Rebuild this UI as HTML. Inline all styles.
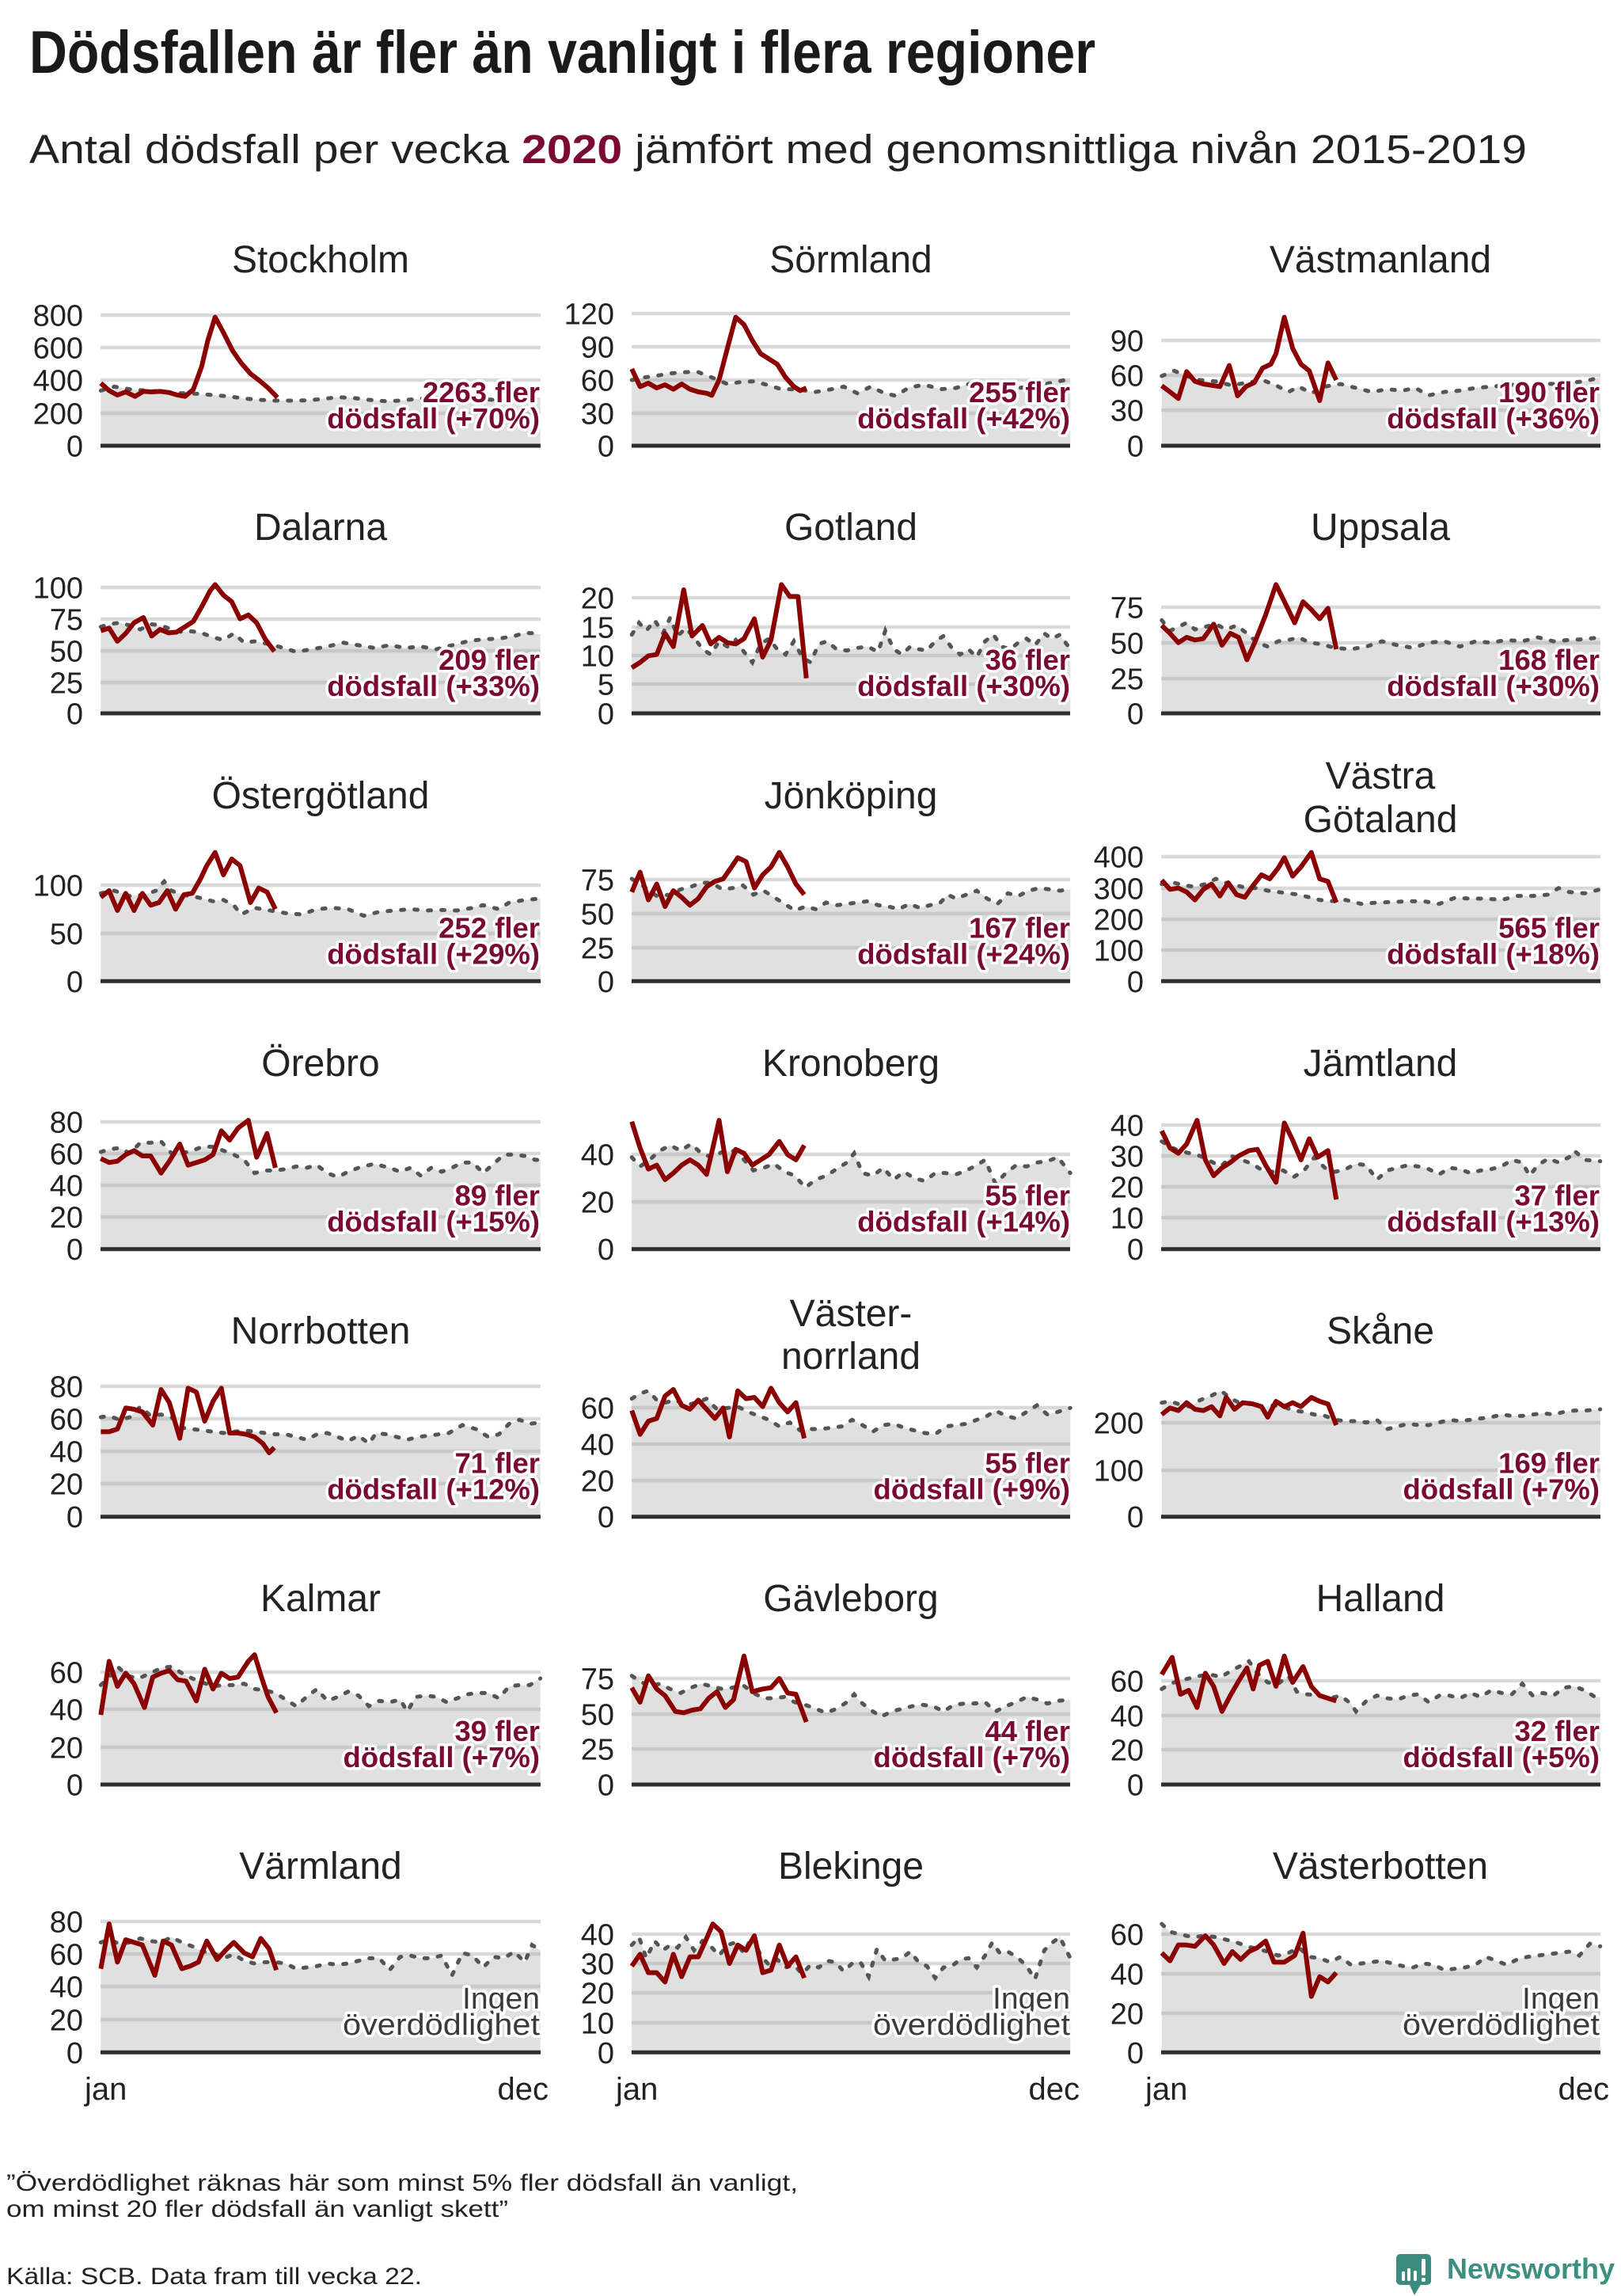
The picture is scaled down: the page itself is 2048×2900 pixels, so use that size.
<!DOCTYPE html>
<html><head><meta charset="utf-8"><style>
html,body{margin:0;padding:0;background:#fff}
svg{display:block}
text{font-family:"Liberation Sans",sans-serif}
.tk{font-size:38px;fill:#222;text-anchor:end}
.pt{font-size:48px;fill:#222;text-anchor:middle}
.an{font-size:36.5px;font-weight:bold;fill:#7a0a33;text-anchor:end;stroke:#fff;stroke-width:7px;paint-order:stroke;stroke-linejoin:round}
.ig{font-size:38px;fill:#3a3a3a;text-anchor:end;stroke:#fff;stroke-width:7px;paint-order:stroke;stroke-linejoin:round}
.gr line{stroke:#d9d9d9;stroke-width:4.5}
.bl{stroke:#2e2e2e;stroke-width:5}
.area{fill:#aaa;fill-opacity:.37;stroke:none}
.avg{fill:none;stroke:#555;stroke-width:5;stroke-dasharray:4 13;stroke-linecap:round;vector-effect:non-scaling-stroke}
.red{fill:none;stroke:#8b0000;stroke-width:6;stroke-linejoin:round;vector-effect:non-scaling-stroke}
.ax{font-size:40px;fill:#222}
.ft{font-size:30px;fill:#222}
</style></head><body>
<svg width="2048" height="2900" viewBox="0 0 2048 2900" xmlns="http://www.w3.org/2000/svg">
<rect width="2048" height="2900" fill="#fff"/>
<text x="37" y="92" font-size="76" font-weight="bold" fill="#1a1a1a" textLength="1347" lengthAdjust="spacingAndGlyphs">Dödsfallen är fler än vanligt i flera regioner</text>
<text x="37" y="206" font-size="51" fill="#222" textLength="1892" lengthAdjust="spacingAndGlyphs">Antal dödsfall per vecka <tspan font-weight="bold" fill="#7a0a33">2020</tspan> jämfört med genomsnittliga nivån 2015-2019</text>

<!-- gridlines -->
<g class="gr">
<line x1="127" y1="398" x2="683" y2="398"/><line x1="127" y1="439" x2="683" y2="439"/><line x1="127" y1="480" x2="683" y2="480"/><line x1="127" y1="522" x2="683" y2="522"/>
<line x1="798" y1="396" x2="1352" y2="396"/><line x1="798" y1="438" x2="1352" y2="438"/><line x1="798" y1="480" x2="1352" y2="480"/><line x1="798" y1="522" x2="1352" y2="522"/>
<line x1="1467" y1="430" x2="2022" y2="430"/><line x1="1467" y1="474" x2="2022" y2="474"/><line x1="1467" y1="518" x2="2022" y2="518"/>

<line x1="127" y1="742" x2="683" y2="742"/><line x1="127" y1="782" x2="683" y2="782"/><line x1="127" y1="822" x2="683" y2="822"/><line x1="127" y1="862" x2="683" y2="862"/>
<line x1="798" y1="755" x2="1352" y2="755"/><line x1="798" y1="792" x2="1352" y2="792"/><line x1="798" y1="828" x2="1352" y2="828"/><line x1="798" y1="864" x2="1352" y2="864"/>
<line x1="1467" y1="767" x2="2022" y2="767"/><line x1="1467" y1="812" x2="2022" y2="812"/><line x1="1467" y1="857" x2="2022" y2="857"/>

<line x1="127" y1="1118" x2="683" y2="1118"/><line x1="127" y1="1179" x2="683" y2="1179"/>
<line x1="798" y1="1111" x2="1352" y2="1111"/><line x1="798" y1="1154" x2="1352" y2="1154"/><line x1="798" y1="1197" x2="1352" y2="1197"/>
<line x1="1467" y1="1082" x2="2022" y2="1082"/><line x1="1467" y1="1122" x2="2022" y2="1122"/><line x1="1467" y1="1161" x2="2022" y2="1161"/><line x1="1467" y1="1200" x2="2022" y2="1200"/>

<line x1="127" y1="1417" x2="683" y2="1417"/><line x1="127" y1="1457" x2="683" y2="1457"/><line x1="127" y1="1497" x2="683" y2="1497"/><line x1="127" y1="1537" x2="683" y2="1537"/>
<line x1="798" y1="1458" x2="1352" y2="1458"/><line x1="798" y1="1518" x2="1352" y2="1518"/>
<line x1="1467" y1="1421" x2="2022" y2="1421"/><line x1="1467" y1="1460" x2="2022" y2="1460"/><line x1="1467" y1="1499" x2="2022" y2="1499"/><line x1="1467" y1="1538" x2="2022" y2="1538"/>

<line x1="127" y1="1751" x2="683" y2="1751"/><line x1="127" y1="1792" x2="683" y2="1792"/><line x1="127" y1="1833" x2="683" y2="1833"/><line x1="127" y1="1874" x2="683" y2="1874"/>
<line x1="798" y1="1778" x2="1352" y2="1778"/><line x1="798" y1="1824" x2="1352" y2="1824"/><line x1="798" y1="1870" x2="1352" y2="1870"/>
<line x1="1467" y1="1797" x2="2022" y2="1797"/><line x1="1467" y1="1857" x2="2022" y2="1857"/>

<line x1="127" y1="2112" x2="683" y2="2112"/><line x1="127" y1="2159" x2="683" y2="2159"/><line x1="127" y1="2207" x2="683" y2="2207"/>
<line x1="798" y1="2120" x2="1352" y2="2120"/><line x1="798" y1="2165" x2="1352" y2="2165"/><line x1="798" y1="2209" x2="1352" y2="2209"/>
<line x1="1467" y1="2123" x2="2022" y2="2123"/><line x1="1467" y1="2167" x2="2022" y2="2167"/><line x1="1467" y1="2210" x2="2022" y2="2210"/>

<line x1="127" y1="2427" x2="683" y2="2427"/><line x1="127" y1="2468" x2="683" y2="2468"/><line x1="127" y1="2509" x2="683" y2="2509"/><line x1="127" y1="2551" x2="683" y2="2551"/>
<line x1="798" y1="2443" x2="1352" y2="2443"/><line x1="798" y1="2480" x2="1352" y2="2480"/><line x1="798" y1="2517" x2="1352" y2="2517"/><line x1="798" y1="2555" x2="1352" y2="2555"/>
<line x1="1467" y1="2443" x2="2022" y2="2443"/><line x1="1467" y1="2493" x2="2022" y2="2493"/><line x1="1467" y1="2543" x2="2022" y2="2543"/>
</g>

<!-- ROW 1 -->
<g transform="translate(0,380) scale(1.31282,0.333333)">
<polygon class="area" points="97,548 97,340 110,325 125,335 140,340 160,345 175,350 190,352 205,357 220,362 235,370 250,375 265,378 280,378 295,377 310,372 325,365 340,368 355,375 370,380 385,378 400,372 415,367 430,368 445,372 460,372 475,375 490,373 505,370 520,365 520,548"/>
<polygon class="area" points="608,548 608,300 620,290 630,285 645,275 660,270 672,270 685,290 700,315 712,308 725,305 740,320 752,335 765,335 785,345 800,335 812,325 825,350 838,325 850,348 862,360 875,328 890,318 905,335 920,330 935,312 950,325 965,315 980,330 995,325 1010,312 1025,300 1030,305 1030,548"/>
<polygon class="area" points="1118,548 1118,285 1130,265 1142,285 1155,300 1170,305 1185,320 1200,310 1215,300 1228,320 1240,345 1250,325 1262,350 1275,325 1290,315 1305,330 1320,345 1335,335 1350,340 1362,330 1375,358 1390,345 1405,340 1420,330 1435,325 1450,320 1465,315 1480,312 1495,315 1510,310 1525,305 1540,290 1540,548"/>
<polyline class="avg" points="97,340 110,325 125,335 140,340 160,345 175,350 190,352 205,357 220,362 235,370 250,375 265,378 280,378 295,377 310,372 325,365 340,368 355,375 370,380 385,378 400,372 415,367 430,368 445,372 460,372 475,375 490,373 505,370 520,365"/>
<polyline class="avg" points="608,300 620,290 630,285 645,275 660,270 672,270 685,290 700,315 712,308 725,305 740,320 752,335 765,335 785,345 800,335 812,325 825,350 838,325 850,348 862,360 875,328 890,318 905,335 920,330 935,312 950,325 965,315 980,330 995,325 1010,312 1025,300 1030,305"/>
<polyline class="avg" points="1118,285 1130,265 1142,285 1155,300 1170,305 1185,320 1200,310 1215,300 1228,320 1240,345 1250,325 1262,350 1275,325 1290,315 1305,330 1320,345 1335,335 1350,340 1362,330 1375,358 1390,345 1405,340 1420,330 1435,325 1450,320 1465,315 1480,312 1495,315 1510,310 1525,305 1540,290"/>
<polyline class="red" points="97,312 105,340 113,357 121,345 130,362 138,343 146,345 154,343 162,347 170,356 178,362 186,336 194,250 200,150 207,62 215,120 224,190 232,235 241,276 249,300 258,330 267,366"/>
<polyline class="red" points="608,258 616,325 624,312 632,330 640,318 648,335 656,315 664,335 672,345 680,350 685,358 692,300 700,180 708,62 716,90 724,150 732,200 740,220 748,240 756,290 764,325 770,340 776,330"/>
<polyline class="red" points="1118,322 1126,345 1134,370 1142,268 1150,305 1158,315 1166,320 1174,325 1183,245 1191,360 1199,325 1207,310 1215,255 1223,240 1228,200 1236,62 1244,180 1252,240 1260,265 1270,378 1278,235 1286,300"/>
</g>

<!-- ROW 2 -->
<g transform="translate(0,720) scale(1.31282,0.333333)">
<polygon class="area" points="97,543 97,215 105,205 115,200 125,210 135,225 145,205 155,210 165,225 175,235 185,232 195,240 205,255 215,265 225,240 235,275 245,270 258,280 270,292 285,310 300,300 315,290 330,275 345,285 360,295 375,285 390,295 405,290 420,300 435,285 450,270 465,262 480,260 495,250 505,238 515,240 520,245 520,543"/>
<polygon class="area" points="608,543 608,245 615,200 622,230 630,190 638,240 645,180 652,250 660,220 668,255 676,300 684,320 692,270 700,290 708,265 716,310 724,350 732,280 740,260 748,300 756,320 764,270 772,330 780,350 788,280 796,270 805,300 815,305 825,295 835,290 845,310 852,230 860,300 868,320 876,290 884,300 892,305 900,270 908,250 916,295 924,320 932,300 940,330 948,270 956,245 964,290 972,300 980,275 988,260 996,285 1005,240 1012,260 1020,245 1030,300 1030,543"/>
<polygon class="area" points="1118,543 1118,190 1126,230 1134,215 1142,200 1150,225 1160,215 1170,205 1180,225 1190,210 1200,240 1210,275 1220,290 1230,270 1240,265 1250,255 1260,275 1270,280 1285,295 1300,300 1315,290 1330,270 1345,285 1360,295 1375,275 1390,270 1405,290 1420,270 1435,275 1450,265 1465,270 1480,255 1495,270 1510,265 1525,262 1540,255 1540,543"/>
<polyline class="avg" points="97,215 105,205 115,200 125,210 135,225 145,205 155,210 165,225 175,235 185,232 195,240 205,255 215,265 225,240 235,275 245,270 258,280 270,292 285,310 300,300 315,290 330,275 345,285 360,295 375,285 390,295 405,290 420,300 435,285 450,270 465,262 480,260 495,250 505,238 515,240 520,245"/>
<polyline class="avg" points="608,245 615,200 622,230 630,190 638,240 645,180 652,250 660,220 668,255 676,300 684,320 692,270 700,290 708,265 716,310 724,350 732,280 740,260 748,300 756,320 764,270 772,330 780,350 788,280 796,270 805,300 815,305 825,295 835,290 845,310 852,230 860,300 868,320 876,290 884,300 892,305 900,270 908,250 916,295 924,320 932,300 940,330 948,270 956,245 964,290 972,300 980,275 988,260 996,285 1005,240 1012,260 1020,245 1030,300"/>
<polyline class="avg" points="1118,190 1126,230 1134,215 1142,200 1150,225 1160,215 1170,205 1180,225 1190,210 1200,240 1210,275 1220,290 1230,270 1240,265 1250,255 1260,275 1270,280 1285,295 1300,300 1315,290 1330,270 1345,285 1360,295 1375,275 1390,270 1405,290 1420,270 1435,275 1450,265 1465,270 1480,255 1495,270 1510,265 1525,262 1540,255"/>
<polyline class="red" points="97,230 105,220 113,270 121,240 129,200 138,180 146,250 154,225 162,238 170,235 178,215 186,195 194,140 202,80 207,55 215,95 223,120 231,185 239,170 247,200 255,260 264,308"/>
<polyline class="red" points="608,370 616,350 624,325 632,320 640,240 648,290 658,75 666,250 676,210 684,280 692,255 700,275 708,280 716,260 726,185 734,330 742,265 752,55 760,100 768,100 776,410"/>
<polyline class="red" points="1118,210 1126,240 1134,275 1142,255 1150,265 1158,260 1168,205 1176,285 1184,240 1192,255 1200,340 1208,270 1218,170 1228,55 1238,135 1246,200 1254,120 1262,150 1270,185 1278,145 1286,300"/>
</g>

<!-- ROW 3 -->
<g transform="translate(0,1060) scale(1.31282,0.333333)">
<polygon class="area" points="97,538 97,205 110,195 125,215 140,210 150,195 158,160 165,195 175,210 190,220 205,235 215,230 225,250 232,285 245,260 260,270 275,280 290,285 305,265 320,260 335,265 350,290 365,275 380,270 395,265 410,270 425,268 440,270 455,260 465,250 480,265 490,240 505,230 520,225 520,538"/>
<polygon class="area" points="608,538 608,150 620,180 632,215 645,210 655,190 665,180 675,165 685,165 695,190 705,185 715,175 725,210 735,195 745,220 755,245 765,270 775,255 785,265 795,240 805,250 815,245 825,240 835,235 845,250 855,255 865,265 875,245 885,260 895,250 905,240 912,210 920,225 930,210 940,195 950,225 960,245 970,205 980,215 990,195 1000,185 1010,190 1020,195 1030,190 1030,538"/>
<polygon class="area" points="1118,538 1118,170 1130,165 1140,175 1150,180 1160,170 1170,150 1180,165 1190,175 1200,185 1210,185 1220,195 1230,200 1240,205 1250,210 1260,220 1270,230 1280,235 1295,230 1310,245 1325,240 1340,238 1355,235 1370,235 1385,245 1400,222 1415,225 1430,225 1445,230 1460,215 1475,215 1490,210 1500,185 1510,200 1525,205 1540,190 1540,538"/>
<polyline class="avg" points="97,205 110,195 125,215 140,210 150,195 158,160 165,195 175,210 190,220 205,235 215,230 225,250 232,285 245,260 260,270 275,280 290,285 305,265 320,260 335,265 350,290 365,275 380,270 395,265 410,270 425,268 440,270 455,260 465,250 480,265 490,240 505,230 520,225"/>
<polyline class="avg" points="608,150 620,180 632,215 645,210 655,190 665,180 675,165 685,165 695,190 705,185 715,175 725,210 735,195 745,220 755,245 765,270 775,255 785,265 795,240 805,250 815,245 825,240 835,235 845,250 855,255 865,265 875,245 885,260 895,250 905,240 912,210 920,225 930,210 940,195 950,225 960,245 970,205 980,215 990,195 1000,185 1010,190 1020,195 1030,190"/>
<polyline class="avg" points="1118,170 1130,165 1140,175 1150,180 1160,170 1170,150 1180,165 1190,175 1200,185 1210,185 1220,195 1230,200 1240,205 1250,210 1260,220 1270,230 1280,235 1295,230 1310,245 1325,240 1340,238 1355,235 1370,235 1385,245 1400,222 1415,225 1430,225 1445,230 1460,215 1475,215 1490,210 1500,185 1510,200 1525,205 1540,190"/>
<polyline class="red" points="97,220 105,195 113,270 121,205 129,270 137,205 145,250 153,240 161,195 169,265 177,210 185,205 193,150 199,100 207,50 215,135 223,75 231,100 241,240 249,185 257,200 265,265"/>
<polyline class="red" points="608,200 616,125 624,230 632,170 640,255 648,195 656,220 664,250 672,225 680,180 688,160 696,150 704,105 710,70 718,85 726,185 734,135 742,105 750,50 758,105 766,170 774,210"/>
<polyline class="red" points="1118,155 1126,190 1134,185 1142,200 1150,230 1158,190 1166,170 1174,215 1182,165 1190,210 1198,220 1206,175 1214,135 1222,150 1230,110 1236,70 1244,140 1252,105 1262,50 1270,150 1278,160 1286,240"/>
</g>

<!-- ROW 4 -->
<g transform="translate(0,1400) scale(1.31282,0.333333)">
<polygon class="area" points="97,533 97,165 105,155 115,150 125,170 135,130 145,130 155,125 165,170 175,170 185,160 195,145 205,145 215,160 225,175 235,195 245,245 255,235 265,235 275,230 285,220 295,225 305,215 315,245 325,260 335,240 345,225 360,210 375,225 385,240 395,225 405,255 415,225 425,240 435,225 445,205 455,205 465,245 475,210 485,175 495,175 505,180 515,195 520,195 520,533"/>
<polygon class="area" points="608,533 608,185 616,220 625,195 635,160 645,140 655,160 665,135 675,170 685,185 695,165 705,160 715,190 725,235 735,225 745,210 755,240 765,255 775,300 785,270 795,255 805,230 815,205 822,170 830,245 840,255 850,225 860,270 870,240 880,265 890,275 900,245 910,245 920,250 930,235 940,215 948,195 958,285 968,245 978,215 988,220 998,205 1008,200 1018,185 1030,245 1030,533"/>
<polygon class="area" points="1118,533 1118,125 1126,145 1134,160 1145,170 1155,180 1165,200 1175,220 1185,180 1195,195 1205,210 1215,235 1225,240 1235,235 1245,260 1255,235 1265,185 1275,225 1285,240 1295,230 1305,210 1315,215 1325,270 1335,235 1345,225 1355,215 1365,220 1375,230 1385,250 1395,225 1405,230 1415,245 1425,235 1435,230 1445,220 1455,195 1465,205 1472,255 1480,215 1490,190 1500,205 1510,185 1515,160 1525,195 1540,200 1540,533"/>
<polyline class="avg" points="97,165 105,155 115,150 125,170 135,130 145,130 155,125 165,170 175,170 185,160 195,145 205,145 215,160 225,175 235,195 245,245 255,235 265,235 275,230 285,220 295,225 305,215 315,245 325,260 335,240 345,225 360,210 375,225 385,240 395,225 405,255 415,225 425,240 435,225 445,205 455,205 465,245 475,210 485,175 495,175 505,180 515,195 520,195"/>
<polyline class="avg" points="608,185 616,220 625,195 635,160 645,140 655,160 665,135 675,170 685,185 695,165 705,160 715,190 725,235 735,225 745,210 755,240 765,255 775,300 785,270 795,255 805,230 815,205 822,170 830,245 840,255 850,225 860,270 870,240 880,265 890,275 900,245 910,245 920,250 930,235 940,215 948,195 958,285 968,245 978,215 988,220 998,205 1008,200 1018,185 1030,245"/>
<polyline class="avg" points="1118,125 1126,145 1134,160 1145,170 1155,180 1165,200 1175,220 1185,180 1195,195 1205,210 1215,235 1225,240 1235,235 1245,260 1255,235 1265,185 1275,225 1285,240 1295,230 1305,210 1315,215 1325,270 1335,235 1345,225 1355,215 1365,220 1375,230 1385,250 1395,225 1405,230 1415,245 1425,235 1435,230 1445,220 1455,195 1465,205 1472,255 1480,215 1490,190 1500,205 1510,185 1515,160 1525,195 1540,200"/>
<polyline class="red" points="97,190 105,205 113,200 121,175 129,160 137,180 145,180 155,245 163,200 173,135 181,215 189,205 197,195 205,175 213,85 221,120 229,75 239,45 247,185 257,95 265,225"/>
<polyline class="red" points="608,50 616,150 624,230 632,215 640,270 648,245 656,215 664,195 672,215 680,250 686,150 692,45 700,240 708,155 716,170 724,215 732,195 740,175 750,125 758,175 766,195 774,140"/>
<polyline class="red" points="1118,85 1126,150 1134,170 1142,135 1152,45 1160,195 1168,255 1176,225 1184,205 1192,180 1202,160 1210,155 1218,215 1228,280 1236,55 1244,120 1252,195 1260,115 1268,185 1278,160 1286,345"/>
</g>

<!-- ROW 5 -->
<g transform="translate(0,1740) scale(1.31282,0.333333)">
<polygon class="area" points="97,527 97,150 105,145 115,160 125,150 135,110 145,145 155,140 165,150 175,190 185,195 195,200 205,205 215,210 225,205 235,200 245,205 255,210 265,215 275,215 285,225 295,235 305,215 315,210 325,225 335,240 345,220 355,250 362,210 372,215 382,225 392,235 402,225 412,220 422,215 432,210 445,180 458,195 470,225 480,215 490,175 500,160 510,175 520,170 520,527"/>
<polygon class="area" points="608,527 608,80 616,60 624,50 632,85 640,95 650,85 660,105 670,95 680,80 690,120 700,115 710,110 720,130 730,145 740,160 750,185 760,170 770,200 780,195 790,195 800,190 810,185 820,160 830,180 840,205 850,180 860,175 870,190 880,200 890,210 900,215 910,185 920,180 930,175 940,160 950,145 958,125 968,145 978,155 988,130 998,105 1008,140 1018,130 1030,115 1030,527"/>
<polygon class="area" points="1118,527 1118,95 1126,90 1134,100 1145,110 1155,85 1165,70 1175,50 1185,80 1195,100 1205,95 1215,115 1225,105 1235,110 1245,125 1255,130 1265,140 1275,145 1285,160 1295,165 1305,165 1315,170 1325,160 1335,195 1345,185 1355,175 1365,180 1375,180 1385,170 1395,160 1405,165 1415,160 1425,155 1435,150 1445,140 1455,145 1465,145 1475,140 1485,135 1495,140 1505,130 1515,125 1525,125 1540,120 1540,527"/>
<polyline class="avg" points="97,150 105,145 115,160 125,150 135,110 145,145 155,140 165,150 175,190 185,195 195,200 205,205 215,210 225,205 235,200 245,205 255,210 265,215 275,215 285,225 295,235 305,215 315,210 325,225 335,240 345,220 355,250 362,210 372,215 382,225 392,235 402,225 412,220 422,215 432,210 445,180 458,195 470,225 480,215 490,175 500,160 510,175 520,170"/>
<polyline class="avg" points="608,80 616,60 624,50 632,85 640,95 650,85 660,105 670,95 680,80 690,120 700,115 710,110 720,130 730,145 740,160 750,185 760,170 770,200 780,195 790,195 800,190 810,185 820,160 830,180 840,205 850,180 860,175 870,190 880,200 890,210 900,215 910,185 920,180 930,175 940,160 950,145 958,125 968,145 978,155 988,130 998,105 1008,140 1018,130 1030,115"/>
<polyline class="avg" points="1118,95 1126,90 1134,100 1145,110 1155,85 1165,70 1175,50 1185,80 1195,100 1205,95 1215,115 1225,105 1235,110 1245,125 1255,130 1265,140 1275,145 1285,160 1295,165 1305,165 1315,170 1325,160 1335,195 1345,185 1355,175 1365,180 1375,180 1385,170 1395,160 1405,165 1415,160 1425,155 1435,150 1445,140 1455,145 1465,145 1475,140 1485,135 1495,140 1505,130 1515,125 1525,125 1540,120"/>
<polyline class="red" points="97,205 105,205 113,195 121,115 129,120 137,130 147,180 155,45 163,95 173,230 181,40 189,55 197,165 205,90 213,40 221,210 229,210 237,215 245,225 253,250 259,285 264,265"/>
<polyline class="red" points="608,125 616,215 624,165 632,155 640,70 648,45 656,105 664,120 672,85 680,120 688,155 696,115 702,225 710,50 718,80 726,75 734,110 742,40 750,95 758,130 766,95 774,230"/>
<polyline class="red" points="1118,140 1126,115 1134,125 1142,95 1150,120 1158,125 1166,110 1174,145 1180,75 1188,120 1196,95 1206,100 1214,110 1220,150 1228,90 1236,110 1244,95 1252,110 1262,75 1270,90 1278,100 1286,180"/>
</g>

<!-- ROW 6 -->
<g transform="translate(0,2080) scale(1.31282,0.333333)">
<polygon class="area" points="97,522 97,145 105,115 113,75 123,110 133,120 145,100 155,80 165,75 175,100 185,120 195,135 205,150 215,145 225,145 235,140 245,160 255,165 265,175 275,200 285,225 295,190 305,160 315,205 325,190 335,170 345,185 355,225 365,205 375,210 385,200 392,245 400,190 410,185 420,190 430,210 440,195 450,180 460,175 470,175 480,195 490,150 500,145 510,145 520,120 520,522"/>
<polygon class="area" points="608,522 608,110 616,130 625,150 635,140 645,160 655,175 665,155 675,140 685,150 695,160 705,155 715,145 725,175 735,195 745,195 755,190 765,210 775,220 785,235 795,250 805,235 815,210 822,180 830,215 840,245 848,265 858,245 868,235 878,225 888,220 898,225 908,245 918,220 928,215 938,215 948,210 958,245 968,225 978,210 988,190 998,200 1008,215 1018,205 1030,200 1030,522"/>
<polygon class="area" points="1118,522 1118,160 1126,140 1134,130 1144,120 1155,110 1165,105 1175,115 1185,90 1195,70 1202,55 1210,100 1220,135 1230,140 1240,110 1248,170 1258,180 1270,185 1280,195 1290,185 1300,215 1305,245 1315,205 1325,185 1335,195 1345,200 1355,185 1365,180 1375,210 1385,185 1395,185 1405,195 1415,175 1425,190 1435,165 1445,175 1455,180 1465,140 1475,185 1485,175 1495,185 1505,155 1515,150 1525,165 1535,190 1540,190 1540,522"/>
<polyline class="avg" points="97,145 105,115 113,75 123,110 133,120 145,100 155,80 165,75 175,100 185,120 195,135 205,150 215,145 225,145 235,140 245,160 255,165 265,175 275,200 285,225 295,190 305,160 315,205 325,190 335,170 345,185 355,225 365,205 375,210 385,200 392,245 400,190 410,185 420,190 430,210 440,195 450,180 460,175 470,175 480,195 490,150 500,145 510,145 520,120"/>
<polyline class="avg" points="608,110 616,130 625,150 635,140 645,160 655,175 665,155 675,140 685,150 695,160 705,155 715,145 725,175 735,195 745,195 755,190 765,210 775,220 785,235 795,250 805,235 815,210 822,180 830,215 840,245 848,265 858,245 868,235 878,225 888,220 898,225 908,245 918,220 928,215 938,215 948,210 958,245 968,225 978,210 988,190 998,200 1008,215 1018,205 1030,200"/>
<polyline class="avg" points="1118,160 1126,140 1134,130 1144,120 1155,110 1165,105 1175,115 1185,90 1195,70 1202,55 1210,100 1220,135 1230,140 1240,110 1248,170 1258,180 1270,185 1280,195 1290,185 1300,215 1305,245 1315,205 1325,185 1335,195 1345,200 1355,185 1365,180 1375,210 1385,185 1395,185 1405,195 1415,175 1425,190 1435,165 1445,175 1455,180 1465,140 1475,185 1485,175 1495,185 1505,155 1515,150 1525,165 1535,190 1540,190"/>
<polyline class="red" points="97,258 105,55 113,150 121,100 129,140 139,230 147,115 155,100 163,90 171,125 179,130 189,205 197,85 205,160 213,100 221,120 229,115 239,55 245,30 252,120 258,190 266,250"/>
<polyline class="red" points="608,155 616,210 624,110 632,160 640,185 650,245 658,250 666,240 674,235 682,195 690,170 698,230 706,200 716,35 724,170 734,160 742,155 750,120 758,175 766,180 776,285"/>
<polyline class="red" points="1118,105 1128,40 1136,180 1144,165 1152,230 1160,100 1168,150 1176,245 1184,185 1192,130 1200,80 1206,160 1212,70 1220,55 1228,150 1236,35 1244,135 1254,75 1262,150 1270,185 1278,195 1286,205"/>
</g>

<!-- ROW 7 -->
<g transform="translate(0,2420) scale(1.31282,0.333333)">
<polygon class="area" points="97,517 97,100 105,90 115,105 125,100 135,85 145,95 155,100 165,80 175,100 185,115 195,135 205,140 215,160 225,145 235,170 245,180 255,175 265,175 275,180 285,200 295,195 305,190 315,180 325,185 335,180 345,170 355,160 365,160 375,205 385,155 395,150 405,160 415,160 425,150 435,225 445,140 455,150 465,195 475,155 485,160 495,135 505,175 512,110 520,130 520,517"/>
<polygon class="area" points="608,517 608,110 615,80 622,160 630,95 638,130 645,110 652,120 660,80 668,130 676,95 684,115 692,150 700,110 708,100 716,140 724,75 732,150 740,185 748,165 756,195 764,185 772,220 780,185 788,195 796,170 804,175 812,210 820,180 828,175 836,230 844,125 852,170 860,165 868,160 876,135 884,175 892,190 900,235 908,195 916,190 924,165 932,160 940,195 948,150 955,100 962,140 970,135 980,160 988,190 996,240 1005,130 1013,100 1020,80 1030,160 1030,517"/>
<polygon class="area" points="1118,517 1118,30 1126,60 1136,70 1148,80 1160,75 1170,80 1180,90 1190,100 1200,115 1210,125 1220,135 1230,150 1240,140 1250,120 1260,155 1270,160 1280,175 1290,155 1300,185 1310,180 1320,175 1330,170 1340,180 1350,190 1360,195 1370,180 1380,185 1390,205 1400,200 1410,195 1420,185 1430,155 1440,170 1450,185 1460,165 1470,155 1480,150 1490,145 1500,140 1510,135 1520,150 1530,105 1540,115 1540,517"/>
<polyline class="avg" points="97,100 105,90 115,105 125,100 135,85 145,95 155,100 165,80 175,100 185,115 195,135 205,140 215,160 225,145 235,170 245,180 255,175 265,175 275,180 285,200 295,195 305,190 315,180 325,185 335,180 345,170 355,160 365,160 375,205 385,155 395,150 405,160 415,160 425,150 435,225 445,140 455,150 465,195 475,155 485,160 495,135 505,175 512,110 520,130"/>
<polyline class="avg" points="608,110 615,80 622,160 630,95 638,130 645,110 652,120 660,80 668,130 676,95 684,115 692,150 700,110 708,100 716,140 724,75 732,150 740,185 748,165 756,195 764,185 772,220 780,185 788,195 796,170 804,175 812,210 820,180 828,175 836,230 844,125 852,170 860,165 868,160 876,135 884,175 892,190 900,235 908,195 916,190 924,165 932,160 940,195 948,150 955,100 962,140 970,135 980,160 988,190 996,240 1005,130 1013,100 1020,80 1030,160"/>
<polyline class="avg" points="1118,30 1126,60 1136,70 1148,80 1160,75 1170,80 1180,90 1190,100 1200,115 1210,125 1220,135 1230,150 1240,140 1250,120 1260,155 1270,160 1280,175 1290,155 1300,185 1310,180 1320,175 1330,170 1340,180 1350,190 1360,195 1370,180 1380,185 1390,205 1400,200 1410,195 1420,185 1430,155 1440,170 1450,185 1460,165 1470,155 1480,150 1490,145 1500,140 1510,135 1520,150 1530,105 1540,115"/>
<polyline class="red" points="97,200 105,30 113,175 121,90 129,100 137,110 149,225 157,95 165,110 175,200 183,190 191,175 199,95 209,165 217,130 225,100 235,140 243,155 251,85 259,125 266,205"/>
<polyline class="red" points="608,190 616,145 624,215 632,215 640,250 648,145 656,230 664,155 672,155 680,85 686,30 694,60 702,180 710,110 718,130 726,75 734,215 742,205 750,110 758,190 766,155 774,235"/>
<polyline class="red" points="1118,140 1126,170 1134,110 1142,110 1150,115 1160,75 1168,110 1178,180 1186,135 1194,165 1202,135 1210,120 1218,95 1226,175 1236,175 1246,150 1254,65 1262,305 1270,230 1278,250 1286,215"/>
</g>

<!-- baselines -->
<g class="bl">
<line x1="127" y1="563" x2="683" y2="563"/><line x1="798" y1="563" x2="1352" y2="563"/><line x1="1467" y1="563" x2="2022" y2="563"/>
<line x1="127" y1="901" x2="683" y2="901"/><line x1="798" y1="901" x2="1352" y2="901"/><line x1="1467" y1="901" x2="2022" y2="901"/>
<line x1="127" y1="1239.3" x2="683" y2="1239.3"/><line x1="798" y1="1239.3" x2="1352" y2="1239.3"/><line x1="1467" y1="1239.3" x2="2022" y2="1239.3"/>
<line x1="127" y1="1577.7" x2="683" y2="1577.7"/><line x1="798" y1="1577.7" x2="1352" y2="1577.7"/><line x1="1467" y1="1577.7" x2="2022" y2="1577.7"/>
<line x1="127" y1="1915.7" x2="683" y2="1915.7"/><line x1="798" y1="1915.7" x2="1352" y2="1915.7"/><line x1="1467" y1="1915.7" x2="2022" y2="1915.7"/>
<line x1="127" y1="2254" x2="683" y2="2254"/><line x1="798" y1="2254" x2="1352" y2="2254"/><line x1="1467" y1="2254" x2="2022" y2="2254"/>
<line x1="127" y1="2592.3" x2="683" y2="2592.3"/><line x1="798" y1="2592.3" x2="1352" y2="2592.3"/><line x1="1467" y1="2592.3" x2="2022" y2="2592.3"/>
</g>

<!-- panel titles -->
<text class="pt" x="405" y="344">Stockholm</text>
<text class="pt" x="1075" y="344">Sörmland</text>
<text class="pt" x="1744" y="344">Västmanland</text>
<text class="pt" x="405" y="682">Dalarna</text>
<text class="pt" x="1075" y="682">Gotland</text>
<text class="pt" x="1744" y="682">Uppsala</text>
<text class="pt" x="405" y="1021">Östergötland</text>
<text class="pt" x="1075" y="1021">Jönköping</text>
<text class="pt" x="1744" y="996">Västra</text>
<text class="pt" x="1744" y="1051">Götaland</text>
<text class="pt" x="405" y="1359">Örebro</text>
<text class="pt" x="1075" y="1359">Kronoberg</text>
<text class="pt" x="1744" y="1359">Jämtland</text>
<text class="pt" x="405" y="1697">Norrbotten</text>
<text class="pt" x="1075" y="1675">Väster-</text>
<text class="pt" x="1075" y="1729">norrland</text>
<text class="pt" x="1744" y="1697">Skåne</text>
<text class="pt" x="405" y="2035">Kalmar</text>
<text class="pt" x="1075" y="2035">Gävleborg</text>
<text class="pt" x="1744" y="2035">Halland</text>
<text class="pt" x="405" y="2373">Värmland</text>
<text class="pt" x="1075" y="2373">Blekinge</text>
<text class="pt" x="1744" y="2373">Västerbotten</text>

<!-- tick labels -->
<g class="tk">
<text x="105" y="411.5">800</text><text x="105" y="452.5">600</text><text x="105" y="493.5">400</text><text x="105" y="535.5">200</text><text x="105" y="576.5">0</text>
<text x="776" y="409.5">120</text><text x="776" y="451.5">90</text><text x="776" y="493.5">60</text><text x="776" y="535.5">30</text><text x="776" y="576.5">0</text>
<text x="1445" y="443.5">90</text><text x="1445" y="487.5">60</text><text x="1445" y="531.5">30</text><text x="1445" y="576.5">0</text>

<text x="105" y="755.5">100</text><text x="105" y="795.5">75</text><text x="105" y="835.5">50</text><text x="105" y="875.5">25</text><text x="105" y="914.5">0</text>
<text x="776" y="768.5">20</text><text x="776" y="805.5">15</text><text x="776" y="841.5">10</text><text x="776" y="877.5">5</text><text x="776" y="914.5">0</text>
<text x="1445" y="780.5">75</text><text x="1445" y="825.5">50</text><text x="1445" y="870.5">25</text><text x="1445" y="914.5">0</text>

<text x="105" y="1131.5">100</text><text x="105" y="1192.5">50</text><text x="105" y="1252.8">0</text>
<text x="776" y="1124.5">75</text><text x="776" y="1167.5">50</text><text x="776" y="1210.5">25</text><text x="776" y="1252.8">0</text>
<text x="1445" y="1095.5">400</text><text x="1445" y="1135.5">300</text><text x="1445" y="1174.5">200</text><text x="1445" y="1213.5">100</text><text x="1445" y="1252.8">0</text>

<text x="105" y="1430.5">80</text><text x="105" y="1470.5">60</text><text x="105" y="1510.5">40</text><text x="105" y="1550.5">20</text><text x="105" y="1591.2">0</text>
<text x="776" y="1471.5">40</text><text x="776" y="1531.5">20</text><text x="776" y="1591.2">0</text>
<text x="1445" y="1434.5">40</text><text x="1445" y="1473.5">30</text><text x="1445" y="1512.5">20</text><text x="1445" y="1551.5">10</text><text x="1445" y="1591.2">0</text>

<text x="105" y="1764.5">80</text><text x="105" y="1805.5">60</text><text x="105" y="1846.5">40</text><text x="105" y="1887.5">20</text><text x="105" y="1929.2">0</text>
<text x="776" y="1791.5">60</text><text x="776" y="1837.5">40</text><text x="776" y="1883.5">20</text><text x="776" y="1929.2">0</text>
<text x="1445" y="1810.5">200</text><text x="1445" y="1870.5">100</text><text x="1445" y="1929.2">0</text>

<text x="105" y="2125.5">60</text><text x="105" y="2172.5">40</text><text x="105" y="2220.5">20</text><text x="105" y="2267.5">0</text>
<text x="776" y="2133.5">75</text><text x="776" y="2178.5">50</text><text x="776" y="2222.5">25</text><text x="776" y="2267.5">0</text>
<text x="1445" y="2136.5">60</text><text x="1445" y="2180.5">40</text><text x="1445" y="2223.5">20</text><text x="1445" y="2267.5">0</text>

<text x="105" y="2440.5">80</text><text x="105" y="2481.5">60</text><text x="105" y="2522.5">40</text><text x="105" y="2564.5">20</text><text x="105" y="2605.8">0</text>
<text x="776" y="2456.5">40</text><text x="776" y="2493.5">30</text><text x="776" y="2530.5">20</text><text x="776" y="2568.5">10</text><text x="776" y="2605.8">0</text>
<text x="1445" y="2456.5">60</text><text x="1445" y="2506.5">40</text><text x="1445" y="2556.5">20</text><text x="1445" y="2605.8">0</text>
</g>

<!-- annotations -->
<g class="an">
<text x="682" y="508">2263 fler</text><text x="682" y="541">dödsfall (+70%)</text>
<text x="1352" y="508">255 fler</text><text x="1352" y="541">dödsfall (+42%)</text>
<text x="2021" y="508">190 fler</text><text x="2021" y="541">dödsfall (+36%)</text>
<text x="682" y="846">209 fler</text><text x="682" y="879">dödsfall (+33%)</text>
<text x="1352" y="846">36 fler</text><text x="1352" y="879">dödsfall (+30%)</text>
<text x="2021" y="846">168 fler</text><text x="2021" y="879">dödsfall (+30%)</text>
<text x="682" y="1184.3">252 fler</text><text x="682" y="1217.3">dödsfall (+29%)</text>
<text x="1352" y="1184.3">167 fler</text><text x="1352" y="1217.3">dödsfall (+24%)</text>
<text x="2021" y="1184.3">565 fler</text><text x="2021" y="1217.3">dödsfall (+18%)</text>
<text x="682" y="1522.7">89 fler</text><text x="682" y="1555.7">dödsfall (+15%)</text>
<text x="1352" y="1522.7">55 fler</text><text x="1352" y="1555.7">dödsfall (+14%)</text>
<text x="2021" y="1522.7">37 fler</text><text x="2021" y="1555.7">dödsfall (+13%)</text>
<text x="682" y="1860.7">71 fler</text><text x="682" y="1893.7">dödsfall (+12%)</text>
<text x="1352" y="1860.7">55 fler</text><text x="1352" y="1893.7">dödsfall (+9%)</text>
<text x="2021" y="1860.7">169 fler</text><text x="2021" y="1893.7">dödsfall (+7%)</text>
<text x="682" y="2199">39 fler</text><text x="682" y="2232">dödsfall (+7%)</text>
<text x="1352" y="2199">44 fler</text><text x="1352" y="2232">dödsfall (+7%)</text>
<text x="2021" y="2199">32 fler</text><text x="2021" y="2232">dödsfall (+5%)</text>
</g>
<g class="ig">
<text x="682" y="2537" textLength="98" lengthAdjust="spacingAndGlyphs">Ingen</text><text x="682" y="2570" textLength="249" lengthAdjust="spacingAndGlyphs">överdödlighet</text>
<text x="1352" y="2537" textLength="98" lengthAdjust="spacingAndGlyphs">Ingen</text><text x="1352" y="2570" textLength="249" lengthAdjust="spacingAndGlyphs">överdödlighet</text>
<text x="2021" y="2537" textLength="98" lengthAdjust="spacingAndGlyphs">Ingen</text><text x="2021" y="2570" textLength="249" lengthAdjust="spacingAndGlyphs">överdödlighet</text>
</g>

<!-- x axis labels -->
<g class="ax">
<text x="107" y="2652">jan</text><text x="693" y="2652" text-anchor="end">dec</text>
<text x="778" y="2652">jan</text><text x="1364" y="2652" text-anchor="end">dec</text>
<text x="1447" y="2652">jan</text><text x="2033" y="2652" text-anchor="end">dec</text>
</g>

<!-- footer -->
<text class="ft" x="8" y="2767" textLength="1000" lengthAdjust="spacingAndGlyphs">”Överdödlighet räknas här som minst 5% fler dödsfall än vanligt,</text>
<text class="ft" x="8" y="2800" textLength="634" lengthAdjust="spacingAndGlyphs">om minst 20 fler dödsfall än vanligt skett”</text>
<text class="ft" x="8" y="2885" textLength="525" lengthAdjust="spacingAndGlyphs">Källa: SCB. Data fram till vecka 22.</text>

<!-- logo -->
<g>
<rect x="1764" y="2847" width="44" height="39" rx="5" fill="#3b8b7e"/>
<polygon points="1780,2884 1796,2884 1787,2899" fill="#3b8b7e"/>
<rect x="1771" y="2869" width="4" height="12" rx="1.5" fill="#fff"/>
<rect x="1778" y="2865" width="4" height="16" rx="1.5" fill="#fff"/>
<rect x="1786" y="2868" width="4" height="13" rx="1.5" fill="#fff"/>
<rect x="1796" y="2853" width="5" height="21" rx="2" fill="#fff"/>
<rect x="1796" y="2877" width="5" height="5" rx="2" fill="#fff"/>
<text x="1828" y="2878" font-size="36" font-weight="bold" fill="#3d8f82" textLength="212" lengthAdjust="spacingAndGlyphs">Newsworthy</text>
</g>
</svg>
</body></html>
